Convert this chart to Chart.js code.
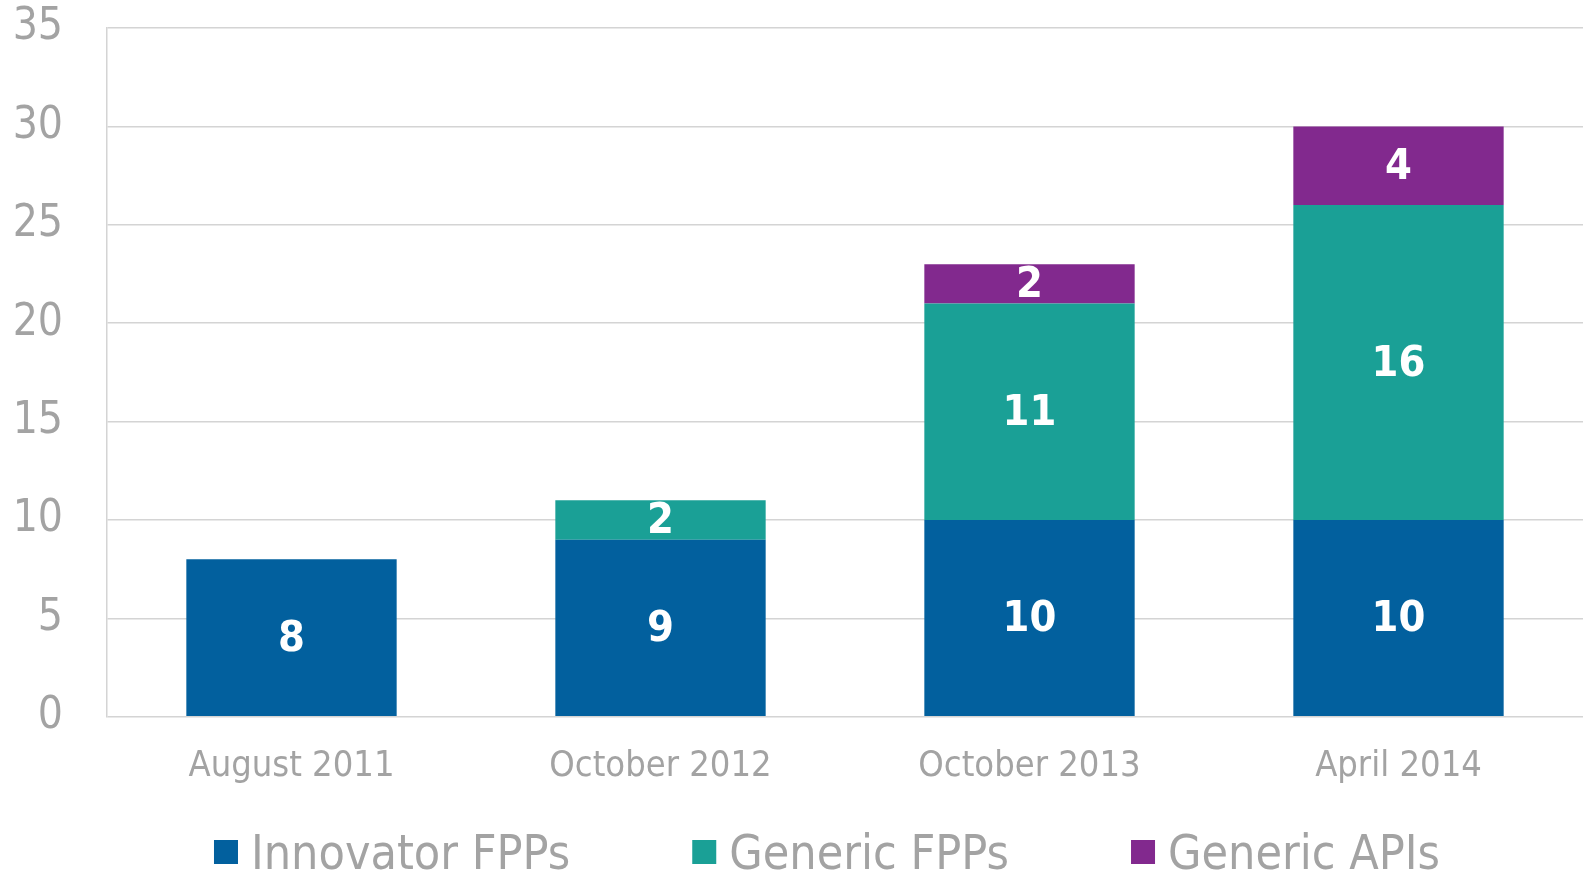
<!DOCTYPE html>
<html>
<head>
<meta charset="utf-8">
<script src="https://cdn.jsdelivr.net/npm/chart.js"></script>
<style>
  html, body { margin: 0; padding: 0; background: #fff; overflow: hidden; }
  #wrap { width: 1583px; height: 873px; position: relative; }
</style>
</head>
<body>
<div id="wrap"><canvas id="chart"></canvas></div>
<script>
const categories = ['August 2011', 'October 2012', 'October 2013', 'April 2014'];
const innovatorFPPs = [8, 9, 10, 10];
const genericFPPs = [null, 2, 11, 16];
const genericAPIs = [null, null, 2, 4];
const yTicks = [0, 5, 10, 15, 20, 25, 30, 35];

const FONT = '"DejaVu Sans Condensed", "DejaVu Sans", sans-serif';
const GREY = '#a3a3a3';

// white numbers in the middle of each segment
const segmentLabels = {
  id: 'segmentLabels',
  afterDatasetsDraw(chart) {
    const ctx = chart.ctx;
    ctx.save();
    ctx.fillStyle = '#fff';
    ctx.font = 'bold 43px ' + FONT;
    ctx.textAlign = 'center';
    ctx.textBaseline = 'middle';
    chart.data.datasets.forEach((ds, i) => {
      chart.getDatasetMeta(i).data.forEach((bar, j) => {
        const v = ds.data[j];
        if (v == null) return;
        const p = bar.getProps(['x', 'y', 'base'], true);
        ctx.fillText(String(v), p.x, (p.y + p.base) / 2 + 2);
      });
    });
    ctx.restore();
  }
};

// legend row along the bottom, drawn by hand so the gaps match
const bottomLegend = {
  id: 'bottomLegend',
  afterDraw(chart) {
    const ctx = chart.ctx;
    const box = 24, gap = 13, spacing = 122;
    ctx.save();
    ctx.font = '48px ' + FONT;
    ctx.textBaseline = 'alphabetic';
    const items = chart.data.datasets.map(ds => ({
      text: ds.label, color: ds.backgroundColor,
      w: box + gap + ctx.measureText(ds.label).width
    }));
    const total = items.reduce((s, it) => s + it.w, 0) + spacing * (items.length - 1);
    let x = 827 - total / 2;
    const baseline = chart.height - 4;
    items.forEach(it => {
      ctx.fillStyle = it.color;
      ctx.fillRect(x, baseline - 29, box, box);
      ctx.fillStyle = GREY;
      ctx.fillText(it.text, x + box + gap, baseline);
      x += it.w + spacing;
    });
    ctx.restore();
  }
};

new Chart(document.getElementById('chart'), {
  type: 'bar',
  data: {
    labels: categories,
    datasets: [
      { label: 'Innovator FPPs', data: innovatorFPPs, backgroundColor: '#02609e' },
      { label: 'Generic FPPs', data: genericFPPs, backgroundColor: '#1aa096' },
      { label: 'Generic APIs', data: genericAPIs, backgroundColor: '#82298e' }
    ]
  },
  options: {
    responsive: true,
    maintainAspectRatio: false,
    animation: false,
    layout: { padding: { top: 28, right: 0, bottom: 65, left: 0 } },
    datasets: { bar: { barPercentage: 1, categoryPercentage: 0.57, borderWidth: 0 } },
    scales: {
      x: {
        stacked: true,
        grid: { display: false },
        border: { display: false },
        ticks: { color: GREY, font: { family: FONT, size: 36 }, padding: 20 }
      },
      y: {
        stacked: true,
        min: 0,
        max: 35,
        afterBuildTicks(scale) { scale.ticks = yTicks.map(v => ({ value: v })); },
        afterFit(scale) { scale.width = 107; scale.paddingTop = 0; },
        grid: { color: '#d4d4d4', lineWidth: 1.5, drawTicks: false },
        border: { display: true, color: '#d4d4d4', width: 1.5 },
        ticks: { color: GREY, font: { family: FONT, size: 44, lineHeight: 0.5 }, padding: 44 }
      }
    },
    plugins: {
      tooltip: { enabled: false },
      legend: { display: false }
    }
  },
  plugins: [segmentLabels, bottomLegend]
});
</script>
</body>
</html>
